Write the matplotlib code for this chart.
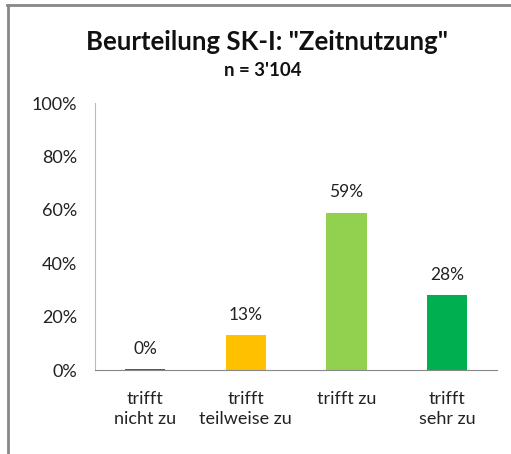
import matplotlib.pyplot as plt
import numpy as np

categories = ["trifft\nnicht zu", "trifft\nteilweise zu", "trifft zu", "trifft\nsehr zu"]
values = [0.4, 13, 59, 28]
labels = ["0%", "13%", "59%", "28%"]
colors = ["#E02020", "#FFC000", "#92D050", "#00B050"]
yticks = [0, 20, 40, 60, 80, 100]

plt.rcParams["font.family"] = ["Lato", "DejaVu Sans"]

fig = plt.figure(figsize=(5.11, 4.54), dpi=100)
ax = fig.add_axes([0.186, 0.185, 0.787, 0.588])

x = np.arange(len(categories))
ax.bar(x, values, width=0.4, color=colors)
for xi, v, lab in zip(x, values, labels):
    ax.text(xi, v + 4.5, lab, ha="center", va="bottom", fontsize=12.5, color="#222222")

ax.set_xlim(-0.5, len(categories) - 0.5)
ax.set_ylim(0, 100)
ax.set_yticks(yticks)
ax.set_yticklabels([f"{t}%" for t in yticks])
ax.set_xticks(x)
ax.set_xticklabels(categories, linespacing=1.35)
ax.tick_params(axis="y", length=0, pad=13, labelsize=13, labelcolor="#222222")
ax.tick_params(axis="x", length=0, pad=15, labelsize=13, labelcolor="#222222")

for s in ["top", "right"]:
    ax.spines[s].set_visible(False)
ax.spines["left"].set_color("#BBBBBB")
ax.spines["bottom"].set_color("#888888")

fig.text(0.523, 0.908, 'Beurteilung SK-I: "Zeitnutzung"', ha="center", va="center",
         fontsize=18.5, fontweight="bold", color="#111111")
fig.text(0.515, 0.845, "n = 3'104", ha="center", va="center",
         fontsize=13.5, fontweight="bold", color="#111111")

# chart frame (only top and left edges visible)
fig.add_artist(plt.Line2D([0.015, 0.015], [0, 0.988], color="#888888", lw=2))
fig.add_artist(plt.Line2D([0.014, 1.0], [0.988, 0.988], color="#888888", lw=2))

fig.savefig("out.png", dpi=100)
